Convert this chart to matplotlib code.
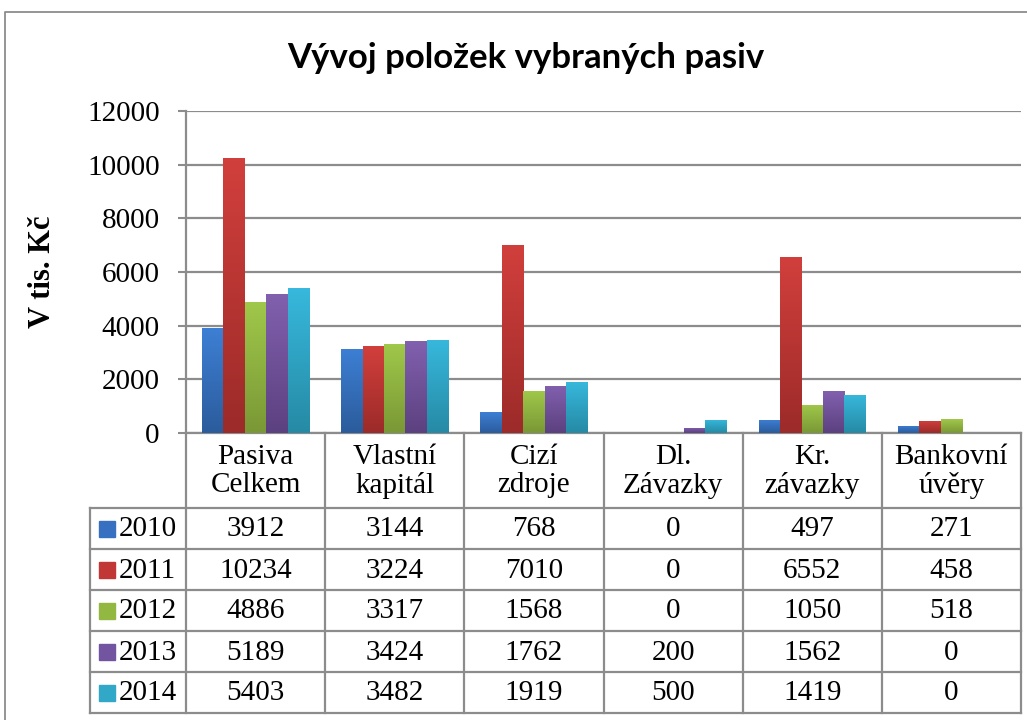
import numpy as np
import matplotlib
matplotlib.use("Agg")
import matplotlib.pyplot as plt
from matplotlib.colors import LinearSegmentedColormap

plt.rcParams["font.family"] = ["Liberation Serif", "DejaVu Serif"]

categories = ["Pasiva\nCelkem", "Vlastní\nkapitál", "Cizí\nzdroje", "Dl.\nZávazky", "Kr.\nzávazky", "Bankovní\núvěry"]
years = ["2010", "2011", "2012", "2013", "2014"]
v2010 = [3912, 3144, 768, 0, 497, 271]
v2011 = [10234, 3224, 7010, 0, 6552, 458]
v2012 = [4886, 3317, 1568, 0, 1050, 518]
v2013 = [5189, 3424, 1762, 200, 1562, 0]
v2014 = [5403, 3482, 1919, 500, 1419, 0]
series = [v2010, v2011, v2012, v2013, v2014]
yticks = [0, 2000, 4000, 6000, 8000, 10000, 12000]
title = "Vývoj položek vybraných pasiv"
ylabel = "V tis. Kč"

top_colors = ["#3d7fd4", "#d13f3c", "#a0c84a", "#8160ae", "#37b8dc"]
bot_colors = ["#2b5c9c", "#9c2b29", "#7a9836", "#5c4180", "#268aa5"]
legend_colors = ["#3770c0", "#c03735", "#93b842", "#7354a0", "#31a8c8"]

W, H = 1027, 720
DPI = 100
fig = plt.figure(figsize=(W / DPI, H / DPI), dpi=DPI)
grey = "#8c8c8c"
FS = 21

# plot area in pixels
L, R, T, B = 186, 1021, 111, 433
ax = fig.add_axes([L / W, 1 - B / H, (R - L) / W, (B - T) / H])
n = len(categories)
ax.set_xlim(-0.5, n - 0.5)
ax.set_ylim(0, 12000)
ax.set_yticks(yticks)
ax.set_yticklabels([str(t) for t in yticks], fontsize=FS)
ax.set_xticks([])
ax.tick_params(axis="y", length=6, width=1.5, color=grey, pad=13)
for s in ["top", "right"]:
    ax.spines[s].set_visible(False)
for s in ["left", "bottom"]:
    ax.spines[s].set_color(grey)
    ax.spines[s].set_linewidth(1.6)
ax.grid(axis="y", color=grey, linewidth=1.6)
ax.set_axisbelow(True)

x = np.arange(n)
bw = 0.154
for i, vals in enumerate(series):
    offs = (i - 2) * bw
    bars = ax.bar(x + offs, vals, width=bw, color=top_colors[i], linewidth=0, zorder=2)
    cmap = LinearSegmentedColormap.from_list("g%d" % i, [bot_colors[i], top_colors[i]])
    grad = np.linspace(0, 1, 64).reshape(-1, 1)
    for b, v in zip(bars, vals):
        if v <= 0:
            b.set_visible(False)
            continue
        x0 = b.get_x()
        im = ax.imshow(grad, cmap=cmap, origin="lower", aspect="auto",
                       extent=[x0, x0 + bw, 0, v], zorder=3, interpolation="bilinear")
        im.set_clip_path(b)
ax.set_xlim(-0.5, n - 0.5)
ax.set_ylim(0, 12000)

# overlay axes in pixel coords for table, title, frame
ov = fig.add_axes([0, 0, 1, 1], facecolor="none")
ov.set_xlim(0, W)
ov.set_ylim(H, 0)
ov.axis("off")

# outer frame
ov.plot([5, 5, W + 5], [H + 5, 12, 12], color=grey, lw=1.3, clip_on=False)

ov.text(526, 58, title, ha="center", va="center", fontsize=25, fontweight="bold",
        family=["Lato", "DejaVu Sans"])
ov.text(42, (T + B) / 2, ylabel, ha="center", va="center", rotation=90,
        fontsize=22, fontweight="bold")

cw = (R - L) / n
col_edges = [L + k * cw for k in range(n + 1)]
hdr_bottom = 508
rh = 41
row_lines = [hdr_bottom + k * rh for k in range(len(years) + 1)]
leg_left = 90
lw = 1.6
for xe in col_edges:
    ov.plot([xe, xe], [B, row_lines[-1]], color=grey, lw=lw)
ov.plot([leg_left, leg_left], [hdr_bottom, row_lines[-1]], color=grey, lw=lw)
for yl in row_lines:
    ov.plot([leg_left, R], [yl, yl], color=grey, lw=lw)

for j, cat in enumerate(categories):
    cx = L + (j + 0.5) * cw
    ov.text(cx, (B + hdr_bottom) / 2 + 1, cat, ha="center", va="center",
            fontsize=FS, linespacing=1.1)

for i, yr in enumerate(years):
    cy = row_lines[i] + rh / 2
    ov.add_patch(plt.Rectangle((99, cy - 8), 16, 16, color=legend_colors[i]))
    ov.text(119, cy + 1, yr, ha="left", va="center", fontsize=FS)
    for j in range(n):
        cx = L + (j + 0.5) * cw
        ov.text(cx, cy + 1, str(series[i][j]), ha="center", va="center", fontsize=FS)

fig.savefig("out.png", dpi=DPI)
